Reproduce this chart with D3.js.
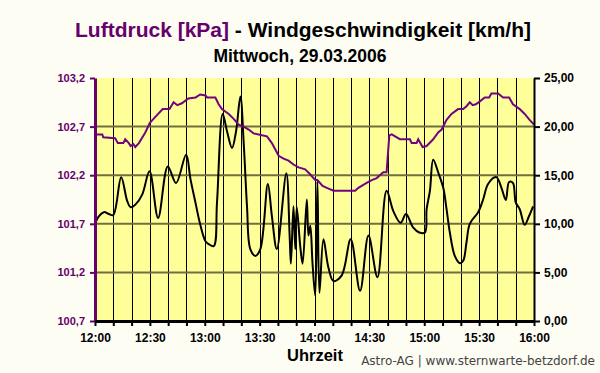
<!DOCTYPE html>
<html>
<head>
<meta charset="utf-8">
<script src="https://cdn.jsdelivr.net/npm/d3@7.9.0/dist/d3.min.js"></script>
<style>
  body { margin: 0; background: #fdfdf4; }
  svg { display: block; font-family: "Liberation Sans", Arial, sans-serif; }
</style>
</head>
<body>
<svg id="chart" width="600" height="373"></svg>
<script>
// === Data (minutes after 12:00) ===
const pressureTime = [0, 4, 4.5, 11, 12.5, 15.5, 16.5, 18.5, 19.5, 21, 22, 24, 27.5, 30, 32.5, 37, 40.7, 43, 45, 47.5, 51, 55, 57.5,
  60.4, 61.3, 65.8, 67.6, 69.4, 73.1, 75.8, 78.5, 81.3, 84, 86.7, 91.3, 94, 96.7, 100.4, 103.1, 105.8, 108.5, 111.3, 114.9, 117.6,
  120.4, 121.6, 124.4, 128, 130.4, 142.2, 144, 148.5, 151.3, 154, 157.6, 159.4, 160.9, 162.2, 166.7, 172.2, 173.1, 175.8, 176.7, 179.1,
  181.3, 184.9, 187.6, 189.5, 192.2, 194.9, 198.5, 201.3, 203.1, 204.9, 206.5, 208.2, 210.4, 213.1, 215.5, 216.7, 220.4, 223.1, 226.4,
  228.5, 232.2, 234.9, 237.6, 240];
const pressure = [102.62, 102.62, 102.59, 102.58, 102.53, 102.53, 102.57, 102.53, 102.50, 102.52, 102.49, 102.53, 102.64, 102.74, 102.79, 102.88, 102.88, 102.95, 102.92, 102.94, 102.99, 103.00, 103.03,
  103.02, 103.00, 103.00, 102.93, 102.88, 102.83, 102.78, 102.72, 102.70, 102.67, 102.63, 102.61, 102.60, 102.53, 102.40, 102.37, 102.35, 102.31, 102.28, 102.26, 102.21,
  102.15, 102.15, 102.09, 102.06, 102.04, 102.04, 102.07, 102.12, 102.15, 102.17, 102.23, 102.23, 102.61, 102.62, 102.57, 102.57, 102.53, 102.53, 102.57, 102.49,
  102.50, 102.57, 102.64, 102.67, 102.77, 102.83, 102.88, 102.88, 102.91, 102.95, 102.92, 102.93, 102.96, 103.00, 103.00, 103.04, 103.04, 103.00, 103.00,
  102.93, 102.88, 102.83, 102.77, 102.72];

const windTime = [0, 2.2, 4.9, 7.6, 10, 14.3, 17.6, 19.5, 22.2, 25.8, 29.8, 34.5, 39.8, 44.3, 49.8, 52.2, 54.9, 57.3,
  60.4, 62.2, 64.9, 66.7, 69.8, 72.2, 74.9, 77.1, 79.5, 81.3, 83.1, 84.9, 87.7, 90.4, 94.5, 96.7, 99.4, 104.6, 106.4, 107.1,
  108.5, 109.5, 110.3, 112.2, 113.5, 115.8, 116.7, 117.7, 118.9, 120.4, 121.6, 122.7, 124.9, 127.6, 130.4, 134.9, 139.8, 144.9,
  149.5, 154.4, 159.4, 163.1, 167.1, 170, 174, 177.3, 180.4, 181.3, 183.1, 184.9, 187.6, 190.4, 192.2, 194, 196.7, 199.5,
  201.3, 203.1, 204.9, 209.5, 212.2, 214.9, 219.4, 222.2, 224.6, 226.4, 228.5, 230, 232.2, 234.9, 237.3, 239.5];
const windSpeed = [10.0, 10.8, 11.2, 11.0, 10.9, 14.8, 12.35, 11.7, 12.0, 13.0, 15.4, 10.6, 15.9, 14.2, 17.1, 14.6, 12.2, 10.1,
  8.2, 7.9, 7.7, 12.2, 21.3, 19.5, 17.8, 19.5, 23.1, 18.3, 11.8, 7.4, 6.7, 7.4, 14.1, 10.8, 7.4, 15.2, 8.8, 5.9,
  11.8, 7.4, 11.7, 7.7, 5.9, 12.5, 8.8, 9.8, 6.0, 2.6, 14.4, 2.9, 8.4, 5.5, 4.1, 4.7, 8.4, 3.1,
  8.8, 4.5, 13.4, 11.3, 10.1, 11.0, 9.6, 9.1, 9.1, 11.5, 13.4, 16.6, 15.3, 13.7, 11.5, 9.1, 6.7, 5.95,
  6.2, 8.1, 10.0, 11.2, 12.5, 14.1, 14.8, 13.7, 12.45, 14.3, 14.2, 12.2, 11.5, 9.9, 10.8, 11.8];

const pressureTicks = [100.7, 101.2, 101.7, 102.2, 102.7, 103.2];
const windTicks = [0, 5, 10, 15, 20, 25];
const timeLabels = ['12:00', '12:30', '13:00', '13:30', '14:00', '14:30', '15:00', '15:30', '16:00'];

const purple = '#66006a';
const svg = d3.select('#chart');

// === Scales ===
const plotLeft = 95, plotRight = 534, plotTop = 78, plotBottom = 321;
const x = d3.scaleLinear().domain([0, 240]).range([plotLeft, plotRight]);
const yP = d3.scaleLinear().domain([100.7, 103.2]).range([plotBottom, plotTop]);
const yW = d3.scaleLinear().domain([0, 25]).range([plotBottom, plotTop]);

// === Titles ===
const title = svg.append('text')
  .attr('x', 303).attr('y', 37)
  .attr('text-anchor', 'middle')
  .attr('font-size', 21).attr('font-weight', 'bold');
title.append('tspan').attr('fill', purple).text('Luftdruck [kPa]');
title.append('tspan').attr('fill', '#000').text(' - Windgeschwindigkeit [km/h]');

svg.append('text')
  .attr('x', 300).attr('y', 62)
  .attr('text-anchor', 'middle')
  .attr('font-size', 17.5).attr('font-weight', 'bold')
  .text('Mittwoch, 29.03.2006');

// === Plot area ===
svg.append('rect')
  .attr('x', plotLeft).attr('y', plotTop)
  .attr('width', plotRight - plotLeft).attr('height', plotBottom - plotTop)
  .attr('fill', '#ffff99');

// vertical grid, every 10 minutes
svg.append('g')
  .selectAll('line')
  .data(d3.range(10, 240, 10))
  .join('line')
  .attr('x1', d => Math.round(x(d)) + 0.5).attr('x2', d => Math.round(x(d)) + 0.5)
  .attr('y1', plotTop).attr('y2', plotBottom)
  .attr('stroke', '#000').attr('stroke-width', 1);

// horizontal grid
svg.append('g')
  .selectAll('line')
  .data(pressureTicks.slice(1, -1))
  .join('line')
  .attr('x1', plotLeft).attr('x2', plotRight)
  .attr('y1', d => yP(d)).attr('y2', d => yP(d))
  .attr('stroke', '#6f6f42').attr('stroke-width', 2);

// === Lines ===
const windLine = d3.line()
  .x((d, i) => x(windTime[i]))
  .y(d => yW(d))
  .curve(d3.curveCatmullRom.alpha(0.5));

svg.append('path')
  .attr('d', windLine(windSpeed))
  .attr('fill', 'none')
  .attr('stroke', '#000')
  .attr('stroke-width', 2);

const pressureLine = d3.line()
  .x((d, i) => x(pressureTime[i]))
  .y(d => yP(d));

svg.append('path')
  .attr('d', pressureLine(pressure))
  .attr('fill', 'none')
  .attr('stroke', '#720480')
  .attr('stroke-width', 2);

// === Axes ===
const fmt = (v, n) => v.toFixed(n).replace('.', ',');

const leftAxis = svg.append('g')
  .attr('transform', `translate(${plotLeft},0)`)
  .call(d3.axisLeft(yP).tickValues(pressureTicks).tickFormat(d => fmt(d, 1)).tickSize(5).tickSizeOuter(0));
leftAxis.select('.domain').attr('stroke', purple).attr('stroke-width', 3);
leftAxis.selectAll('.tick line').attr('stroke', purple).attr('stroke-width', 2);
leftAxis.selectAll('.tick text')
  .attr('fill', purple).attr('font-size', 11).attr('font-weight', 'bold')
  .attr('font-family', '"Liberation Sans", Arial, sans-serif').attr('x', -10);

const rightAxis = svg.append('g')
  .attr('transform', `translate(${plotRight},0)`)
  .call(d3.axisRight(yW).tickValues(windTicks).tickFormat(d => fmt(d, 2)).tickSize(6).tickSizeOuter(0));
rightAxis.select('.domain').attr('stroke', '#000').attr('stroke-width', 2);
rightAxis.selectAll('.tick line').attr('stroke', '#000').attr('stroke-width', 2);
rightAxis.selectAll('.tick text')
  .attr('fill', '#000').attr('font-size', 12).attr('font-weight', 'bold')
  .attr('font-family', '"Liberation Sans", Arial, sans-serif').attr('x', 10);

const bottomAxis = svg.append('g')
  .attr('transform', `translate(0,${plotBottom})`)
  .call(d3.axisBottom(x).tickValues(d3.range(0, 250, 10)).tickSize(5).tickSizeOuter(0)
    .tickFormat(d => d % 30 === 0 ? timeLabels[d / 30] : ''));
bottomAxis.select('.domain').attr('stroke', '#000').attr('stroke-width', 3);
bottomAxis.selectAll('.tick line').attr('stroke', '#000').attr('stroke-width', 2);
bottomAxis.selectAll('.tick text')
  .attr('fill', '#000').attr('font-size', 12).attr('font-weight', 'bold')
  .attr('font-family', '"Liberation Sans", Arial, sans-serif').attr('y', 12);

// === Footer ===
svg.append('text')
  .attr('x', 315).attr('y', 361)
  .attr('text-anchor', 'middle')
  .attr('font-size', 16.5).attr('font-weight', 'bold')
  .text('Uhrzeit');

svg.append('text')
  .attr('x', 595).attr('y', 365)
  .attr('text-anchor', 'end')
  .attr('font-family', '"DejaVu Sans", Verdana, sans-serif')
  .attr('font-size', 12).attr('fill', '#444')
  .text('Astro-AG | www.sternwarte-betzdorf.de');
</script>
</body>
</html>
